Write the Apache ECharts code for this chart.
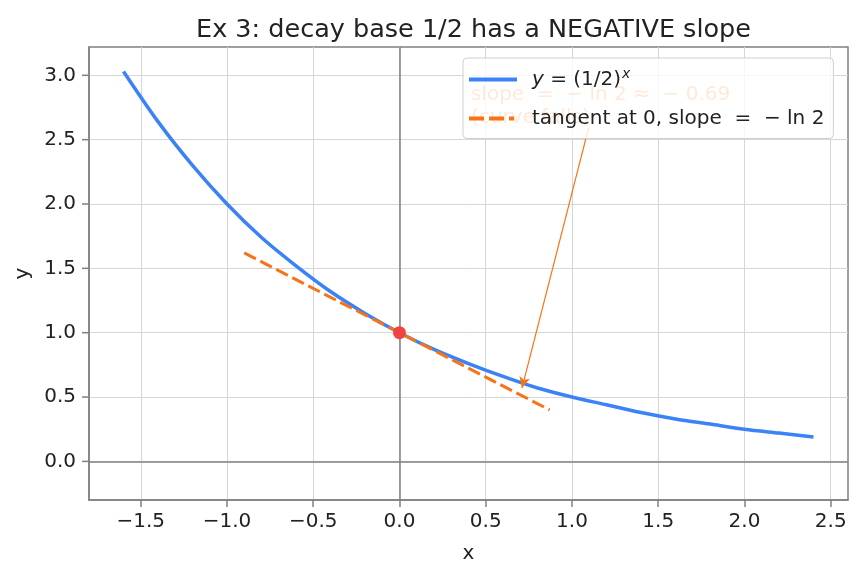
<!DOCTYPE html>
<html>
<head>
<meta charset="utf-8">
<script src="https://cdn.jsdelivr.net/npm/echarts@6/dist/echarts.min.js"></script>
<style>
  html, body { margin: 0; padding: 0; background: #fff; }
  #chart { width: 862px; height: 575px; }
</style>
</head>
<body>
<div id="chart"></div>
<script>
// curve y = (1/2)^x
const curveX = [-1.6, -1.4, -1.2, -1.0, -0.8, -0.6, -0.4, -0.2, 0.0, 0.2, 0.4, 0.6, 0.8, 1.0, 1.2, 1.4, 1.6, 1.8, 2.0, 2.2, 2.4];
const curveY = [3.03, 2.64, 2.30, 2.00, 1.74, 1.52, 1.32, 1.15, 1.00, 0.87, 0.76, 0.66, 0.57, 0.50, 0.44, 0.38, 0.33, 0.29, 0.25, 0.22, 0.19];
// tangent line at 0
const tangentX = [-0.9, 0.87];
const tangentY = [1.62, 0.40];
const pointXY = [0, 1];
// annotation arrow: text anchor -> target
const arrowFrom = [1.096, 2.59];
const arrowTo = [0.71, 0.57];
const noteAt = [0.414, 2.76];
const xTicks = [-1.5, -1.0, -0.5, 0.0, 0.5, 1.0, 1.5, 2.0, 2.5];
const yTicks = [0.0, 0.5, 1.0, 1.5, 2.0, 2.5, 3.0];

const X_MIN = -1.8, X_MAX = 2.6, Y_MIN = -0.3, Y_MAX = 3.22;

const BLUE = '#3b82f6';
const ORANGE = '#f97316';
const RED = '#ef4444';
const FRAME = '#808080';
const FONT = 'DejaVu Sans';
const TICK_LEN = 7;

const fmt = (v) => (v < 0 ? '\u2212' : '') + Math.abs(v).toFixed(1);

const chart = echarts.init(document.getElementById('chart'));

const option = {
  animation: false,
  backgroundColor: '#fff',
  textStyle: { fontFamily: FONT },
  title: {
    text: 'Ex 3: decay base 1/2 has a NEGATIVE slope',
    left: 468.5,
    textAlign: 'center',
    top: 12,
    textStyle: { fontFamily: FONT, fontSize: 25.5, fontWeight: 'normal', color: '#222' },
  },
  grid: {
    left: 89, right: 14, top: 47, bottom: 75,
    show: true,
    borderColor: FRAME,
    borderWidth: 1.5,
    backgroundColor: 'transparent',
  },
  legend: {
    orient: 'vertical',
    left: 463,
    top: 58,
    padding: [9, 9, 9, 6],
    itemGap: 17,
    itemWidth: 48,
    itemHeight: 4,
    backgroundColor: 'rgba(255,255,255,0.8)',
    borderColor: '#d0d0d0',
    borderWidth: 1,
    borderRadius: 4,
    z: 10,
    data: [
      { name: 'curve', icon: 'path://M0,0H48V4H0Z' },
      { name: 'tangent', icon: 'path://M0,0H15V4H0Z M20,0H35V4H20Z M40,0H45V4H40Z M47.9,0H48V4H47.9Z' },
    ],
    formatter: (name) => name === 'curve'
      ? '{g| }{i|y} = (1/2){sup|x}'
      : '{g| }tangent at 0, slope  =  \u2212 ln 2',
    textStyle: {
      fontFamily: FONT, fontSize: 20, lineHeight: 22, color: '#222',
      rich: {
        g: { width: 10, fontSize: 20 },
        i: { fontFamily: FONT, fontSize: 20, fontStyle: 'italic', color: '#222' },
        sup: { fontFamily: FONT, fontSize: 14, fontStyle: 'italic', color: '#222', padding: [0, 0, 11, 1] },
      },
    },
  },
  xAxis: {
    type: 'value',
    min: X_MIN,
    max: X_MAX,
    name: 'x',
    nameLocation: 'middle',
    nameGap: 44,
    nameTextStyle: { fontFamily: FONT, fontSize: 20, color: '#222' },
    axisLine: { show: true, onZero: false, lineStyle: { color: FRAME, width: 1.5 } },
    axisTick: { show: false, customValues: xTicks },
    axisLabel: { customValues: xTicks, formatter: fmt, fontFamily: FONT, fontSize: 20, color: '#222', margin: 12 },
    splitLine: { show: true, lineStyle: { color: '#d6d6d6', width: 1 } },
  },
  yAxis: {
    type: 'value',
    min: Y_MIN,
    max: Y_MAX,
    name: 'y',
    nameLocation: 'middle',
    nameGap: 55,
    nameRotate: 90,
    nameTextStyle: { fontFamily: FONT, fontSize: 20, color: '#222' },
    axisLine: { show: true, onZero: false, lineStyle: { color: FRAME, width: 1.5 } },
    axisTick: { show: false, customValues: yTicks },
    axisLabel: { customValues: yTicks, formatter: fmt, fontFamily: FONT, fontSize: 20, color: '#222', margin: 13 },
    splitLine: { show: true, lineStyle: { color: '#d6d6d6', width: 1 } },
  },
  series: [
    {
      // zero lines
      name: 'axes0',
      type: 'line',
      data: [],
      z: 1,
      markLine: {
        silent: true,
        symbol: 'none',
        label: { show: false },
        lineStyle: { color: FRAME, width: 1.5, type: 'solid' },
        data: [{ xAxis: 0 }, { yAxis: 0 }],
      },
    },
    {
      name: 'note',
      type: 'scatter',
      data: [noteAt],
      symbolSize: 0,
      z: 2,
      silent: true,
      label: {
        show: true,
        position: 'right',
        distance: 0,
        formatter: 'slope  =  \u2212 ln 2 \u2248  \u2212 0.69\n(curve falls)',
        fontFamily: FONT,
        fontSize: 20,
        lineHeight: 23,
        color: ORANGE,
      },
      markLine: {
        silent: true,
        animation: false,
        symbolSize: [8, 11],
        label: { show: false },
        lineStyle: { color: ORANGE, width: 1.2, type: 'solid' },
        data: [[
          { coord: arrowFrom, symbol: 'none' },
          { coord: arrowTo, symbol: 'arrow' },
        ]],
      },
    },
    {
      name: 'curve',
      type: 'line',
      data: curveX.map((x, i) => [x, curveY[i]]),
      smooth: 0.3,
      symbol: 'none',
      z: 3,
      lineStyle: { color: BLUE, width: 3.5 },
      itemStyle: { color: BLUE },
    },
    {
      name: 'tangent',
      type: 'line',
      data: tangentX.map((x, i) => [x, tangentY[i]]),
      symbol: 'none',
      z: 4,
      lineStyle: { color: ORANGE, width: 3, type: [13, 5] },
      itemStyle: { color: ORANGE },
    },
    {
      name: 'point',
      type: 'scatter',
      data: [pointXY],
      symbolSize: 13,
      z: 5,
      itemStyle: { color: RED, opacity: 1 },
    },
  ],
};

chart.setOption(option);

// outward tick marks, positioned through the axis scales, on their own layer
const toPx = (pt) => chart.convertToPixel({ gridIndex: 0 }, pt);
const tickEls = [];
xTicks.forEach((v) => {
  const p = toPx([v, Y_MIN]);
  tickEls.push({ type: 'rect', silent: true,
    shape: { x: Math.round(p[0]) - 0.75, y: Math.round(p[1]) - 1, width: 1.5, height: TICK_LEN + 1 },
    style: { fill: FRAME } });
});
yTicks.forEach((v) => {
  const p = toPx([X_MIN, v]);
  tickEls.push({ type: 'rect', silent: true,
    shape: { x: Math.round(p[0]) - TICK_LEN, y: p[1] - 0.75, width: TICK_LEN, height: 1.5 },
    style: { fill: FRAME } });
});
chart.setOption({ graphic: { zlevel: 1, z: 100, elements: tickEls } });
</script>
</body>
</html>
